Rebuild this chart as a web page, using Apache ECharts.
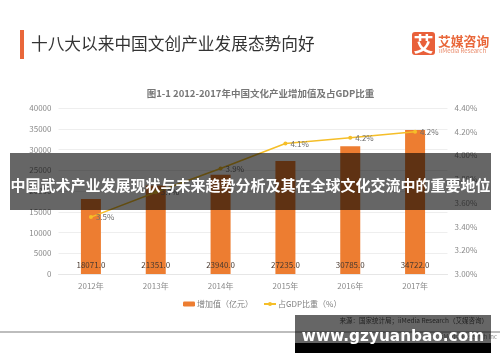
<!DOCTYPE html>
<html><head><meta charset="utf-8">
<style>html,body{margin:0;padding:0;background:#fff}#c{width:500px;height:362px}</style>
<script src="https://cdn.jsdelivr.net/npm/echarts@6/dist/echarts.min.js"></script>
</head><body><div id="c"></div>
<script>
const categories = ['2012年','2013年','2014年','2015年','2016年','2017年'];
const addedValue = [18071.0,21351.0,23940.0,27235.0,30785.0,34722.0];
const gdpShare = [3.48,3.69,3.89,4.10,4.15,4.20];
const shareLabels = ['3.5%','3.7%','3.9%','4.1%','4.2%','4.2%'];
const seriesNames = ['增加值（亿元）','占GDP比重（%）'];
const FONT = '"Noto Sans CJK SC","Noto Sans",sans-serif';
const chart = echarts.init(document.getElementById('c'),null,{renderer:'canvas'});
chart.setOption({
  animation:false,
  backgroundColor:'#fff',
  textStyle:{fontFamily:FONT},
  grid:{left:58.5,right:52.5,top:108,height:166,containLabel:false},
  legend:{left:178,top:295,itemGap:10,itemWidth:12,itemHeight:5,
    textStyle:{fontSize:8,color:'#7f7f7f',fontFamily:FONT,padding:[0,0,0,-3]},data:seriesNames},
  xAxis:{type:'category',data:categories,axisTick:{show:false},
    axisLine:{lineStyle:{color:'#e6e6e6'}},
    axisLabel:{color:'#8a8a8a',fontSize:8,margin:8,fontFamily:FONT}},
  yAxis:[
    {type:'value',min:0,max:40000,interval:5000,axisLine:{show:false},axisTick:{show:false},
     splitLine:{lineStyle:{color:'#eeeeee'}},
     axisLabel:{color:'#8a8a8a',fontSize:8,margin:7,fontFamily:FONT,formatter:v=>String(v)}},
    {type:'value',min:3,max:4.4,interval:0.2,axisLine:{show:false},axisTick:{show:false},splitLine:{show:false},
     axisLabel:{color:'#8a8a8a',fontSize:8,margin:7,fontFamily:FONT,formatter:v=>v.toFixed(2)+'%'}}
  ],
  series:[
    {name:seriesNames[0],type:'bar',data:addedValue,barWidth:20,itemStyle:{color:'#ED7D31'},
     label:{show:true,position:'insideBottom',distance:5,color:'#4a3a30',fontSize:8,fontFamily:FONT,
       formatter:p=>p.value.toFixed(1)}},
    {name:seriesNames[1],type:'line',yAxisIndex:1,data:gdpShare,symbol:'circle',symbolSize:4,
     lineStyle:{color:'#F5BE28',width:1.5},itemStyle:{color:'#F5BE28'},
     label:{show:true,position:'right',distance:3,color:'#6e6e6e',fontSize:8,fontFamily:FONT,
       formatter:p=>shareLabels[p.dataIndex]}}
  ],
  graphic:[
    {type:'rect',z:50,shape:{x:20,y:30,width:4,height:29},style:{fill:'#E9673A'}},
    {type:'text',z:50,style:{x:31,y:44,text:'十八大以来中国文创产业发展态势向好',font:'16.7px '+FONT,fill:'#333333',textVerticalAlign:'middle'}},
    {type:'rect',z:50,shape:{x:412,y:32,width:23,height:23,r:3},style:{fill:'#E9603A'}},
    {type:'text',z:51,style:{x:423.5,y:44,text:'艾',font:'bold 20px '+FONT,fill:'#fff',textAlign:'center',textVerticalAlign:'middle'}},
    {type:'text',z:50,style:{x:438,y:41,text:'艾媒咨询',font:'bold 12.8px '+FONT,fill:'#E9673A',textVerticalAlign:'middle'}},
    {type:'text',z:50,style:{x:439,y:51,text:'iiMedia Research',font:'6px '+FONT,fill:'#E98A6A',textVerticalAlign:'middle'}},
    {type:'text',z:50,style:{x:260.5,y:93,text:'图1-1 2012-2017年中国文化产业增加值及占GDP比重',font:'bold 9.5px '+FONT,fill:'#777777',textAlign:'center',textVerticalAlign:'middle'}},
    {type:'rect',z:50,shape:{x:0,y:331,width:500,height:2},style:{fill:'#bdbdbd'}},
    {type:'text',z:50,style:{x:497,y:337,text:'iiMedia Research Inc',font:'6px '+FONT,fill:'#8a8a8a',textAlign:'right',textVerticalAlign:'middle'}},
    {type:'rect',z:60,shape:{x:10,y:153,width:481,height:57},style:{fill:'rgba(0,0,0,0.6)'}},
    {type:'text',z:61,style:{x:250.5,y:185,text:'中国武术产业发展现状与未来趋势分析及其在全球文化交流中的重要地位',font:'bold 15px '+FONT,fill:'#fff',textAlign:'center',textVerticalAlign:'middle'}},
    {type:'text',z:50,style:{x:488,y:321,text:'来源：国家统计局；iiMedia Research（艾媒咨询）',font:'6.5px "Noto Sans CJK SC"',fill:'#555',textAlign:'right',textVerticalAlign:'middle'}},
    {type:'rect',z:60,shape:{x:295,y:315,width:196,height:28},style:{fill:'rgba(0,0,0,0.6)'}},
    {type:'rect',z:60,shape:{x:295,y:343,width:196,height:10},style:{fill:'#000'}},
    {type:'text',z:61,style:{x:393,y:337,text:'www.gzyuanbao.com',font:'bold 15.3px "DejaVu Sans"',fill:'#fff',textAlign:'center',textVerticalAlign:'middle'}}
  ]
});
</script></body></html>
